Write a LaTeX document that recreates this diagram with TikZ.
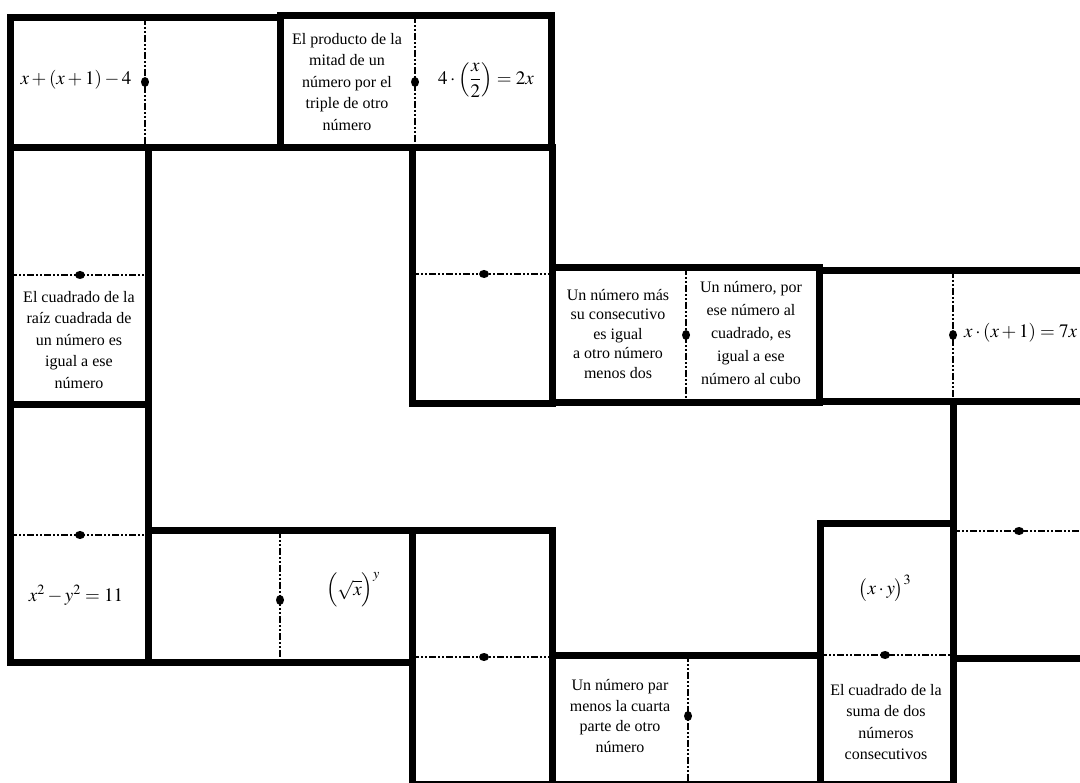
\documentclass[tikz,border=0pt]{standalone}
\usepackage{mathptmx}
\usepackage{fontspec}
\setmainfont{Liberation Serif}
\begin{document}
\begin{tikzpicture}[x=1pt,y=-1pt,
  tile/.style={line width=7pt, line join=miter},
  divider/.style={line width=1.8pt, dash pattern=on 7pt off 2pt on 2pt off 2pt on 2pt off 2pt},
  txt/.style={align=center, inner sep=0pt, font=\fontsize{16}{21.5}\selectfont},
  eq/.style={inner sep=0pt, font=\fontsize{19}{22}\selectfont}]
\useasboundingbox (0,0) rectangle (1080,783);
\fill[white] (0,0) rectangle (1080,783);
\begin{scope}
\clip (0,0) rectangle (1080,783);
% dividers
\draw[divider] (145,18) -- (145,148);
\draw[divider] (415,16) -- (415,148);
\draw[divider] (10,275) -- (148,275);
\draw[divider] (412,274) -- (552,274);
\draw[divider] (686,268) -- (686,403);
\draw[divider] (953,271) -- (953,402);
\draw[divider] (953,531) -- (1090,531);
\draw[divider] (10,535) -- (148,535);
\draw[divider] (280,531) -- (280,662);
\draw[divider] (412,657) -- (552,657);
\draw[divider] (688,655) -- (688,784);
\draw[divider] (820,655) -- (953,655);
% tiles
\draw[tile] (10,18) rectangle (280,148);
\draw[tile] (280,16) rectangle (551,148);
\draw[tile] (10,148) rectangle (148,405);
\draw[tile] (412,148) rectangle (552,404);
\draw[tile] (552,268) rectangle (819,403);
\draw[tile] (819,271) rectangle (1090,402);
\draw[tile] (953,402) rectangle (1090,658);
\draw[tile] (10,405) rectangle (148,662);
\draw[tile] (148,531) rectangle (412,662);
\draw[tile] (412,531) rectangle (552,784.5);
\draw[tile] (552,655) rectangle (820,784.5);
\draw[tile] (820,524) rectangle (953,784.5);
% pips
\fill (145,82) ellipse (4pt and 5pt);
\fill (415,82) ellipse (4pt and 5pt);
\fill (80,275) ellipse (5pt and 4pt);
\fill (484,274) ellipse (5pt and 4pt);
\fill (686,335) ellipse (4pt and 5pt);
\fill (953,335) ellipse (4pt and 5pt);
\fill (1019,531) ellipse (5pt and 4pt);
\fill (80,535) ellipse (5pt and 4pt);
\fill (280,600) ellipse (4pt and 5pt);
\fill (484,657) ellipse (5pt and 4pt);
\fill (688,716) ellipse (4pt and 5pt);
\fill (885,655) ellipse (5pt and 4pt);
% texts
\node[eq] (e1) at (76,80) {$x+\left(x+1\right)-4$};
\node[txt] (t2) at (347,82) {El producto de la\\mitad de un\\número por el\\triple de otro\\número};
\node[eq] (e2) at (486,80) {$4\cdot\left(\displaystyle\frac{x}{2}\right)=2x$};
\node[txt] (t3) at (79,340) {El cuadrado de la\\raíz cuadrada de\\un número es\\igual a ese\\número};
\node[txt, font=\fontsize{16}{19.5}\selectfont] (t5a) at (618,334) {Un número más\\su consecutivo\\es igual\\a otro número\\menos dos};
\node[txt, font=\fontsize{16}{23}\selectfont] (t5b) at (751,333) {Un número, por\\ese número al\\cuadrado, es\\igual a ese\\número al cubo};
\node[eq, anchor=west] (e6) at (964,333) {$x\cdot\left(x+1\right)=7x$};
\node[eq] (e8) at (76,595) {$x^{2}-y^{2}=11$};
\node[eq] (e9) at (353,590) {$\Bigl(\sqrt{x}\Bigr)^{y}$};
\node[txt, font=\fontsize{16}{20.5}\selectfont] (t11) at (620,716) {Un número par\\menos la cuarta\\parte de otro\\número};
\node[eq] (e12) at (885,588) {$\bigl(x\cdot y\bigr)^{3}$};
\node[txt] (t12) at (886,722) {El cuadrado de la\\suma de dos\\números\\consecutivos};
\end{scope}
\end{tikzpicture}
\end{document}
